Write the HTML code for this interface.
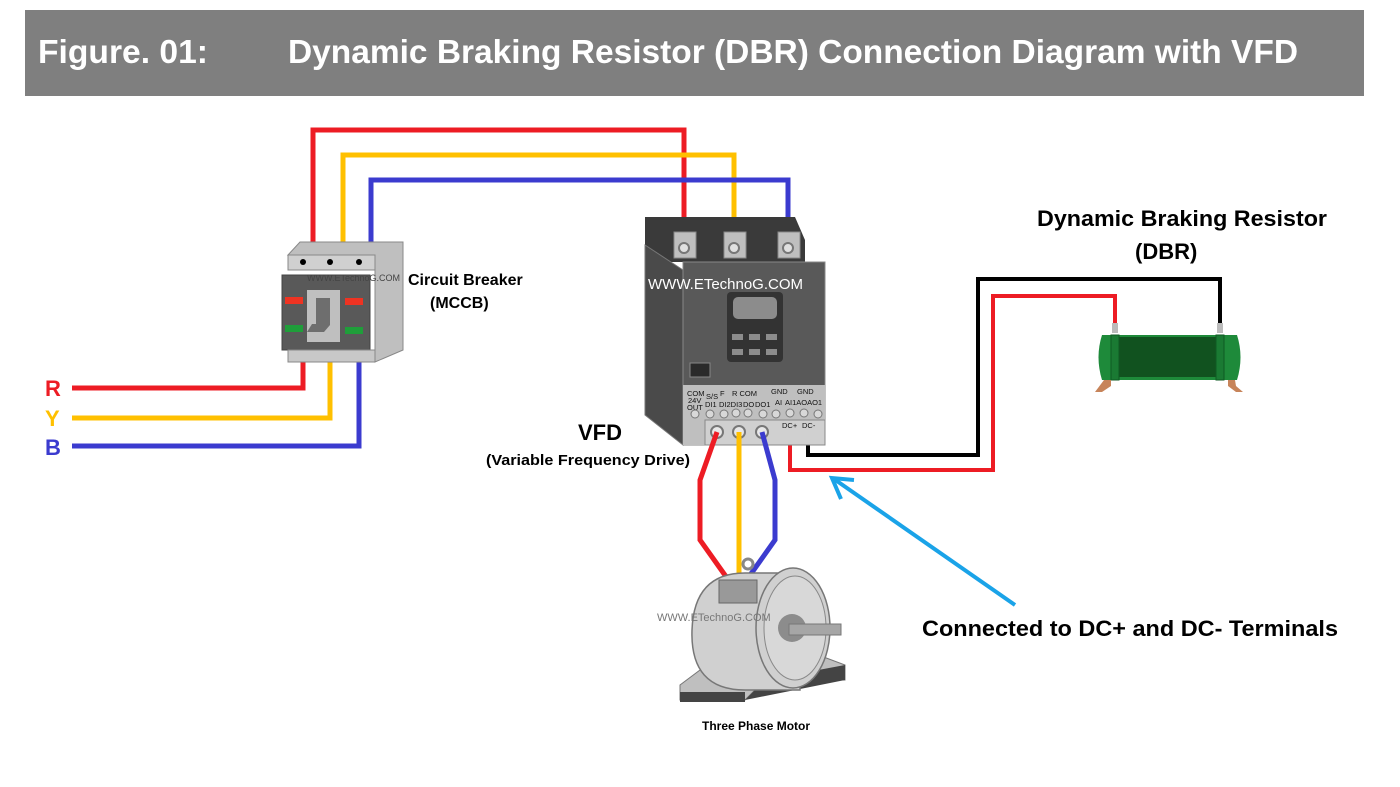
<!DOCTYPE html>
<html><head><meta charset="utf-8"><style>
html,body{margin:0;padding:0;background:#fff;width:1400px;height:787px;overflow:hidden}
svg{display:block;font-family:"Liberation Sans",sans-serif}
</style></head><body>
<svg width="1400" height="787" viewBox="0 0 1400 787" xmlns="http://www.w3.org/2000/svg">
<rect x="25" y="10" width="1339" height="86" fill="#7f7f7f"/>
<text x="38" y="63" fill="#fff" font-size="33" font-weight="bold" textLength="170" lengthAdjust="spacingAndGlyphs">Figure. 01:</text>
<text x="288" y="63" fill="#fff" font-size="33" font-weight="bold" textLength="1010" lengthAdjust="spacingAndGlyphs">Dynamic Braking Resistor (DBR) Connection Diagram with VFD</text>

<g fill="none" stroke-width="5" stroke-linejoin="miter">
<polyline points="313,248 313,130 684,130 684,248" stroke="#ed1c24"/>
<polyline points="343,248 343,155 734,155 734,248" stroke="#ffc000"/>
<polyline points="371,248 371,180 788,180 788,248" stroke="#3b3bcf"/>
<polyline points="303,355 303,388 72,388" stroke="#ed1c24"/>
<polyline points="330,355 330,418 72,418" stroke="#ffc000"/>
<polyline points="359,355 359,446 72,446" stroke="#3b3bcf"/>
<polyline points="808,432 808,455 978,455 978,279 1220,279 1220,325" stroke="#000" stroke-width="4"/>
<polyline points="790,432 790,470 993,470 993,296 1115,296 1115,325" stroke="#ed1c24" stroke-width="4"/>
</g>
<text x="45" y="396" fill="#ed1c24" font-size="22" font-weight="bold">R</text>
<text x="45" y="426" fill="#ffc000" font-size="22" font-weight="bold">Y</text>
<text x="45" y="455" fill="#3b3bcf" font-size="22" font-weight="bold">B</text>

<!-- MCCB -->
<polygon points="288,255 300,242 403,242 403,350 375,362 375,255" fill="#bfbfbf" stroke="#888"/>
<rect x="288" y="255" width="87" height="15" fill="#d0d0d0" stroke="#888"/>
<rect x="282" y="275" width="88" height="75" fill="#595959" stroke="#444"/>
<rect x="307" y="290" width="33" height="52" fill="#bfbfbf"/>
<polygon points="316,298 330,298 330,325 324,332 307,332 312,324 316,324" fill="#6e6e6e"/>
<rect x="285" y="297" width="18" height="7" fill="#e32"/>
<rect x="285" y="325" width="18" height="7" fill="#1f9e3a"/>
<rect x="345" y="298" width="18" height="7" fill="#e32"/>
<rect x="345" y="327" width="18" height="7" fill="#1f9e3a"/>
<rect x="288" y="350" width="87" height="12" fill="#c8c8c8" stroke="#888"/>
<circle cx="303" cy="262" r="3" fill="#000"/><circle cx="330" cy="262" r="3" fill="#000"/><circle cx="359" cy="262" r="3" fill="#000"/>
<text x="307" y="281" font-size="9" fill="#444">WWW.ETechnoG.COM</text>
<text x="408" y="285" font-size="16" font-weight="bold">Circuit Breaker</text>
<text x="430" y="308" font-size="16" font-weight="bold">(MCCB)</text>

<!-- VFD -->
<polygon points="645,217 795,217 805,240 805,262 645,262" fill="#3a3a3a"/>
<polygon points="645,245 683,270 683,445 645,415" fill="#4a4a4a" stroke="#777"/>
<rect x="683" y="262" width="142" height="183" fill="#595959" stroke="#888"/>
<g fill="#bfbfbf" stroke="#888"><rect x="674" y="232" width="22" height="26"/><rect x="724" y="232" width="22" height="26"/><rect x="778" y="232" width="22" height="26"/></g>
<g fill="#e0e0e0" stroke="#777" stroke-width="2"><circle cx="684" cy="248" r="5"/><circle cx="734" cy="248" r="5"/><circle cx="788" cy="248" r="5"/></g>
<rect x="727" y="292" width="56" height="70" rx="4" fill="#333"/>
<rect x="733" y="297" width="44" height="22" rx="5" fill="#8c8c8c"/>
<g fill="#8c8c8c"><rect x="732" y="334" width="11" height="6"/><rect x="749" y="334" width="11" height="6"/><rect x="766" y="334" width="11" height="6"/><rect x="732" y="349" width="11" height="6"/><rect x="749" y="349" width="11" height="6"/><rect x="766" y="349" width="11" height="6"/></g>
<rect x="690" y="363" width="20" height="14" fill="#2a2a2a" stroke="#888"/>
<rect x="683" y="385" width="142" height="60" fill="#bfbfbf"/>
<rect x="705" y="420" width="120" height="25" fill="#d0d0d0" stroke="#888"/>
<text x="648" y="289" font-size="15" fill="#fff">WWW.ETechnoG.COM</text>
<g font-size="7.5" fill="#111">
<text x="687" y="396">COM</text><text x="706" y="399">S/S</text><text x="720" y="396">F</text><text x="732" y="396">R COM</text><text x="771" y="394">GND</text><text x="797" y="394">GND</text>
<text x="688" y="403">24V</text><text x="705" y="407">DI1</text><text x="719" y="407">DI2DI3</text><text x="743" y="407">DO</text><text x="755" y="407">DO1</text><text x="775" y="405">AI</text><text x="785" y="405">AI1AOAO1</text>
<text x="687" y="410">OUT</text><text x="782" y="428">DC+</text><text x="802" y="428">DC-</text></g>
<g fill="#d8d8d8" stroke="#777"><circle cx="695" cy="414" r="4"/><circle cx="710" cy="414" r="4"/><circle cx="724" cy="414" r="4"/><circle cx="736" cy="413" r="4"/><circle cx="748" cy="413" r="4"/><circle cx="763" cy="414" r="4"/><circle cx="776" cy="414" r="4"/><circle cx="790" cy="413" r="4"/><circle cx="804" cy="413" r="4"/><circle cx="818" cy="414" r="4"/></g>
<g fill="#e8e8e8" stroke="#777" stroke-width="2"><circle cx="717" cy="432" r="6"/><circle cx="739" cy="432" r="6"/><circle cx="762" cy="432" r="6"/></g>
<text x="578" y="440" font-size="22" font-weight="bold">VFD</text>
<text x="486" y="465" font-size="14.5" font-weight="bold" textLength="204" lengthAdjust="spacingAndGlyphs">(Variable Frequency Drive)</text>

<g fill="none" stroke-width="5">
<polyline points="717,432 700,480 700,540 727,578" stroke="#ed1c24"/>
<polyline points="739,432 739,578" stroke="#ffc000"/>
<polyline points="762,432 775,480 775,540 748,578" stroke="#3b3bcf"/>
</g>

<!-- motor -->
<polygon points="700,640 700,670 680,685 680,700 745,700 765,680 845,680 845,665 805,650" fill="#bfbfbf" stroke="#777"/>
<polygon points="680,692 745,692 745,702 680,702" fill="#444"/>
<polygon points="745,700 765,680 845,665 845,680" fill="#444"/>
<path d="M745,573 L800,573 L800,690 L745,690 Q690,690 692,630 Q694,573 745,573 Z" fill="#d0d0d0" stroke="#777" stroke-width="1.5"/>
<circle cx="748" cy="564" r="5" fill="none" stroke="#888" stroke-width="3"/>
<rect x="719" y="580" width="38" height="23" fill="#999" stroke="#666"/>
<ellipse cx="793" cy="628" rx="37" ry="60" fill="#d0d0d0" stroke="#777" stroke-width="1.5"/>
<ellipse cx="795" cy="628" rx="31" ry="52" fill="#d8d8d8" stroke="#888"/>
<circle cx="792" cy="628" r="14" fill="#8c8c8c"/>
<rect x="789" y="624" width="52" height="11" fill="#a6a6a6" stroke="#777"/>
<text x="657" y="621" font-size="11" fill="#777">WWW.ETechnoG.COM</text>
<text x="702" y="730" font-size="12" font-weight="bold">Three Phase Motor</text>

<!-- DBR -->
<path d="M1102,335 L1237,335 Q1244,357 1237,380 L1102,380 Q1095,357 1102,335 Z" fill="#1e8a3a"/>
<rect x="1118" y="337" width="98" height="40" fill="#11521f"/>
<rect x="1111" y="335" width="8" height="45" fill="#1a7a33" stroke="#0f5a23"/>
<rect x="1216" y="335" width="8" height="45" fill="#1a7a33" stroke="#0f5a23"/>
<rect x="1112" y="323" width="6" height="10" fill="#bbb"/><rect x="1217" y="323" width="6" height="10" fill="#bbb"/>
<polygon points="1104,380 1111,380 1111,386 1102,392 1095,392" fill="#c7845a"/>
<polygon points="1228,380 1235,380 1236,386 1243,392 1236,392 1228,386" fill="#c7845a"/>
<text x="1037" y="226" font-size="22" font-weight="bold" textLength="290" lengthAdjust="spacingAndGlyphs">Dynamic Braking Resistor</text>
<text x="1135" y="259" font-size="22" font-weight="bold">(DBR)</text>

<!-- arrow -->
<line x1="1015" y1="605" x2="834" y2="479" stroke="#1aa3e8" stroke-width="4"/>
<polyline points="841,499 832,478 854,480" fill="none" stroke="#1aa3e8" stroke-width="4" stroke-linejoin="miter"/>
<text x="922" y="636" font-size="22" font-weight="bold" textLength="416" lengthAdjust="spacingAndGlyphs">Connected to DC+ and DC- Terminals</text>
</svg>
</body></html>
